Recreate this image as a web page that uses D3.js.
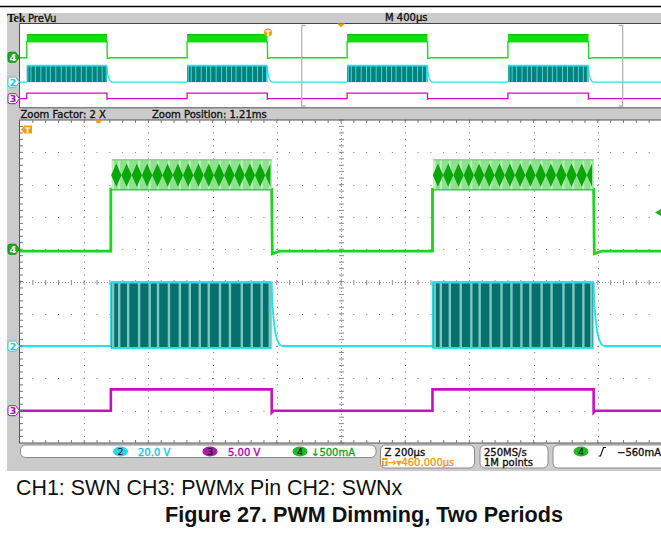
<!DOCTYPE html>
<html><head><meta charset="utf-8">
<script src="https://cdn.jsdelivr.net/npm/d3@7"></script>
<style>body{margin:0;background:#fff}svg{display:block}.st{stroke-width:0.35px}</style>
</head><body>
<svg id="c" width="661" height="540"></svg>
<script>
// ---------------- data ----------------
const previewSpanUs = [0, 4000];          // PreVu record: 10 div x 400 µs
const zoomSpanUs = [1755, 3755];          // zoomed view: 10 div x 200 µs
const expansionUs = 2000;                 // orange expansion-point marker
const triggerUs = 1545;                   // "T" trigger marker in preview
const pwmRiseUs = [42, 1041, 2038, 3040];
const pwmFallUs = [542, 1541, 2539, 3542];
const channelIds = ["4", "2", "3"];
const channelOffsetDiv = [1.0, -2.0, -4.0];
const channelPerDiv = [0.5, 20, 5];       // A/div, V/div, V/div
const channelColors = ["#1fd61f", "#22e2ec", "#c800c8"];
// CH4 inductor current (A)
const ch4LowA = -0.03;
const ch4EnvelopeA = [0.93, 1.39];
const ch4RippleMidA = 1.145;
const ch4RippleAmpA = 0.18;
const ch4RipplePeriodUs = 32;
const ch4FallUndershootA = -0.07;
// CH2 switch node (V)
const ch2HighV = 39.5;
const ch2LowV = 0;
const ch2BandBottomV = -1.2;
const ch2TailUs = [0, 2, 6, 11, 17, 24, 32];
const ch2TailV = [39.5, 26, 17, 9, 4, 1, 0];
const ch2StripeUs = [7, 26, 54, 88, 121, 147, 181, 215, 246, 277, 305, 340, 371, 408, 439, 470, 495];
// CH3 PWM pin (V)
const ch3HighV = 3.3;
const ch3LowV = 0;
const ch3UndershootV = -0.3;
// trigger level (A)
const trigLevelA = 0.57;
// status texts
const statusScale = ["20.0 V", "5.00 V", "\u2193500mA"];
const statusHoriz = ["Z 200\u00b5s", "\u2192\u25be460.000\u00b5s"];
const statusAcq = ["250MS/s", "1M points"];
const statusTrig = "\u2212560mA";
const captionText = "CH1: SWN CH3: PWMx Pin CH2: SWNx";
const titleText = "Figure 27. PWM Dimming, Two Periods";

// ---------------- layout ----------------
const svg = d3.select("#c");
const FONT = "DejaVu Sans, sans-serif";
const GRAY = "#cbcbcb";
const ORANGE = "#f59a12";

const xMain = d3.scaleLinear().domain(zoomSpanUs).range([20, 662]);
const yMain = d3.scaleLinear().domain([-5, 5]).range([443, 120]);
const xPrev = d3.scaleLinear().domain(previewSpanUs).range([20, 662]);
const yPrev = d3.scaleLinear().domain([-5, 5]).range([107, 24]);

function dv(ch, v) { return v / channelPerDiv[ch] + channelOffsetDiv[ch]; }
function stext(sel, color) { return sel.attr("fill", color).attr("stroke", color).attr("class", "st"); }

// document rule
svg.append("line").attr("x1", 0).attr("x2", 661).attr("y1", 6.5).attr("y2", 6.5)
  .attr("stroke", "#000").attr("stroke-width", 1.5);

// scope frame background
svg.append("rect").attr("x", 7).attr("y", 13).attr("width", 654).attr("height", 458).attr("fill", GRAY);
svg.append("rect").attr("x", 20).attr("y", 24).attr("width", 642).attr("height", 83.5).attr("fill", "#fff");
svg.append("rect").attr("x", 20).attr("y", 120).attr("width", 642).attr("height", 323).attr("fill", "#fff");

const defs = svg.append("defs");
defs.append("clipPath").attr("id", "clipMain").append("rect")
  .attr("x", 20).attr("y", 120).attr("width", 642).attr("height", 323);
defs.append("clipPath").attr("id", "clipPrev").append("rect")
  .attr("x", 20).attr("y", 24).attr("width", 642).attr("height", 83.5);

// ---------------- graticule ----------------
const grid = svg.append("g");
const nDivX = 10, nDivY = 10;
const tStep = (zoomSpanUs[1] - zoomSpanUs[0]) / nDivX;
for (let k = 1; k < nDivX; k++) {
  const gx = Math.round(xMain(zoomSpanUs[0] + k * tStep));
  for (let j = 0; j <= nDivY * 5; j++) {
    const gy = yMain(-5 + j * 0.2);
    if (k === 5) {
      grid.append("rect").attr("x", gx - 2).attr("y", gy - 0.5).attr("width", 5).attr("height", 1).attr("fill", "#8a8a8a");
    } else {
      grid.append("rect").attr("x", gx).attr("y", gy - 0.5).attr("width", 1).attr("height", 1).attr("fill", "#7c7c7c");
    }
  }
}
for (let d = -4; d <= 4; d++) {
  const gy = Math.round(yMain(d));
  for (let j = 0; j <= nDivX * 5; j++) {
    const gx = xMain(zoomSpanUs[0] + j * tStep / 5);
    if (d === 0) {
      grid.append("rect").attr("x", gx - 0.5).attr("y", gy - 2).attr("width", 1).attr("height", 5).attr("fill", "#8a8a8a");
    } else {
      grid.append("rect").attr("x", gx - 0.5).attr("y", gy).attr("width", 1).attr("height", 1).attr("fill", "#7c7c7c");
    }
  }
}
// center dashed lines
grid.append("line").attr("x1", Math.round(xMain(zoomSpanUs[0] + 5 * tStep)) + 0.5).attr("x2", Math.round(xMain(zoomSpanUs[0] + 5 * tStep)) + 0.5)
  .attr("y1", 120).attr("y2", 443).attr("stroke", "#a0a0a0").attr("stroke-dasharray", "1,2");
grid.append("line").attr("x1", 20).attr("x2", 662).attr("y1", Math.round(yMain(0)) + 0.5).attr("y2", Math.round(yMain(0)) + 0.5)
  .attr("stroke", "#a0a0a0").attr("stroke-dasharray", "1,2");

// ---------------- waveforms ----------------
function drawWaves(g, x, y, main) {
  const [t0, t1] = x.domain();
  const pulses = pwmRiseUs.map((r, i) => ({ r, f: pwmFallUs[i] })).filter(p => p.f > t0 && p.r < t1);
  const line = d3.line().x(d => x(d[0])).y(d => y(d[1]));

  // --- CH4 green ---
  const lowA = dv(0, ch4LowA), envLo = dv(0, ch4EnvelopeA[0]), envHi = dv(0, ch4EnvelopeA[1]);
  const gp = [[t0, lowA]];
  pulses.forEach(p => gp.push([p.r, lowA], [p.r, envLo], [p.f, envLo], [p.f + 2, dv(0, ch4FallUndershootA)], [p.f + 25, lowA]));
  gp.push([t1, lowA]);
  g.append("path").attr("d", line(gp)).attr("fill", "none")
    .attr("stroke", main ? "#1ed41e" : "#22d822").attr("stroke-width", main ? 2.8 : 1.4);
  pulses.forEach(p => {
    const bx = x(p.r) + (main ? 1 : 0), bw = x(p.f) - bx;
    g.append("rect").attr("x", bx).attr("y", y(envHi)).attr("width", bw).attr("height", y(envLo) - y(envHi))
      .attr("fill", main ? "#8fe08f" : "#12dc12");
    if (main) {
      ch2StripeUs.forEach(s => g.append("rect").attr("x", x(p.r + s) - 1).attr("y", y(envHi))
        .attr("width", 2).attr("height", y(envLo) - y(envHi)).attr("fill", "#bdf0bd"));
      g.append("line").attr("x1", bx).attr("x2", x(p.f)).attr("y1", y(envHi) + 0.5).attr("y2", y(envHi) + 0.5)
        .attr("stroke", "#6cd86c").attr("stroke-width", 1.2);
      const pts = [];
      for (let t = p.r + 1, k = 0; t <= p.f; t += ch4RipplePeriodUs / 2, k++) pts.push([t, k % 2 ? ch4RippleAmpA : 0]);
      const area = d3.area().x(d => x(d[0]))
        .y0(d => y(dv(0, ch4RippleMidA - d[1]))).y1(d => y(dv(0, ch4RippleMidA + d[1])));
      g.append("path").attr("d", area(pts)).attr("fill", "#0aa60a");
    } else {
      g.append("line").attr("x1", bx).attr("x2", x(p.f)).attr("y1", y(envHi) + 0.5).attr("y2", y(envHi) + 0.5)
        .attr("stroke", "#0bb80b").attr("stroke-width", 1);
    }
  });

  // --- CH2 cyan ---
  const c0 = dv(1, ch2LowV), cHi = dv(1, ch2HighV), cBot = dv(1, ch2BandBottomV);
  const cyan = "#22e2ec";
  let cur = t0;
  pulses.forEach(p => {
    g.append("path").attr("d", line([[cur, c0], [p.r, c0]])).attr("fill", "none")
      .attr("stroke", cyan).attr("stroke-width", main ? 2.2 : 1.4);
    cur = p.f + ch2TailUs[ch2TailUs.length - 1];
  });
  g.append("path").attr("d", line([[cur, c0], [t1, c0]])).attr("fill", "none")
    .attr("stroke", cyan).attr("stroke-width", main ? 2.2 : 1.4);
  pulses.forEach(p => {
    const bx = x(p.r), bw = x(p.f) - bx;
    const yb = main ? y(cBot) : y(c0);
    g.append("rect").attr("x", bx).attr("y", y(cHi)).attr("width", bw).attr("height", yb - y(cHi))
      .attr("fill", main ? "#06716c" : "#0a807c");
    ch2StripeUs.forEach(s => g.append("rect").attr("x", x(p.r + s) - (main ? 1.2 : 0.5)).attr("y", y(cHi))
      .attr("width", main ? 2.4 : 1).attr("height", yb - y(cHi))
      .attr("fill", main ? "#8fd6d4" : "#3fd8e0").attr("opacity", main ? 0.85 : 1));
    g.append("line").attr("x1", bx).attr("x2", x(p.f)).attr("y1", y(cHi)).attr("y2", y(cHi))
      .attr("stroke", cyan).attr("stroke-width", main ? 2.6 : 1.8);
    if (main) {
      g.append("line").attr("x1", bx).attr("x2", x(p.f)).attr("y1", yb).attr("y2", yb)
        .attr("stroke", cyan).attr("stroke-width", 2);
      g.append("line").attr("x1", bx).attr("x2", bx).attr("y1", y(c0)).attr("y2", y(cHi))
        .attr("stroke", cyan).attr("stroke-width", 1.5);
      g.append("line").attr("x1", x(p.f)).attr("x2", x(p.f)).attr("y1", yb).attr("y2", y(cHi))
        .attr("stroke", "#7fe6ec").attr("stroke-width", 1.2);
    }
    const tail = ch2TailUs.map((t, i) => [p.f + t, dv(1, ch2TailV[i])]);
    g.append("path").attr("d", line(tail)).attr("fill", "none")
      .attr("stroke", cyan).attr("stroke-width", main ? 1.8 : 1.2);
  });

  // --- CH3 magenta ---
  const m0 = dv(2, ch3LowV), m1 = dv(2, ch3HighV), mu = dv(2, ch3UndershootV);
  const mp = [[t0, m0]];
  pulses.forEach(p => mp.push([p.r, m0], [p.r, m1], [p.f, m1], [p.f, mu], [p.f + 6, m0]));
  mp.push([t1, m0]);
  g.append("path").attr("d", line(mp)).attr("fill", "none")
    .attr("stroke", "#c510c5").attr("stroke-width", main ? 2.6 : 1.3);
}

drawWaves(svg.append("g").attr("clip-path", "url(#clipPrev)"), xPrev, yPrev, false);
drawWaves(svg.append("g").attr("clip-path", "url(#clipMain)"), xMain, yMain, true);

// ---------------- borders & ticks ----------------
const bord = svg.append("g");
bord.append("rect").attr("x", 19.5).attr("y", 120).attr("width", 660).attr("height", 323)
  .attr("fill", "none").attr("stroke", "#555").attr("stroke-width", 1);
for (let j = 1; j < nDivX * 5; j++) {
  const gx = xMain(zoomSpanUs[0] + j * tStep / 5);
  bord.append("line").attr("x1", gx).attr("x2", gx).attr("y1", 120).attr("y2", 123).attr("stroke", "#777");
  bord.append("line").attr("x1", gx).attr("x2", gx).attr("y1", 440).attr("y2", 443).attr("stroke", "#777");
}
for (let j = 1; j < nDivY * 5; j++) {
  const gy = yMain(-5 + j * 0.2);
  bord.append("line").attr("x1", 20).attr("x2", 23).attr("y1", gy).attr("y2", gy).attr("stroke", "#777");
}
// preview borders
bord.append("line").attr("x1", 19.5).attr("x2", 19.5).attr("y1", 23.5).attr("y2", 108).attr("stroke", "#555");
bord.append("line").attr("x1", 19.5).attr("x2", 661).attr("y1", 23.5).attr("y2", 23.5).attr("stroke", "#444");
bord.append("line").attr("x1", 19.5).attr("x2", 661).attr("y1", 107.8).attr("y2", 107.8).attr("stroke", "#555");

// zoom bracket in preview
const bxL = xPrev(zoomSpanUs[0]), bxR = xPrev(zoomSpanUs[1]);
bord.append("path").attr("d", `M${bxL + 4},25.5 L${bxL},25.5 L${bxL},106 L${bxL + 4},106`)
  .attr("fill", "none").attr("stroke", "#b4b4b4").attr("stroke-width", 1.3);
bord.append("path").attr("d", `M${bxR - 4},25.5 L${bxR},25.5 L${bxR},106 L${bxR - 4},106`)
  .attr("fill", "none").attr("stroke", "#b4b4b4").attr("stroke-width", 1.3);

// ---------------- header texts ----------------
svg.append("text").attr("x", 7).attr("y", 21.5).attr("font-family", "Liberation Serif, serif")
  .attr("font-weight", "bold").attr("font-size", 12).attr("letter-spacing", -0.3).attr("fill", "#111").text("Tek");
stext(svg.append("text").attr("x", 28).attr("y", 21.5).attr("font-family", FONT)
  .attr("font-size", 10), "#111").text("PreVu");
stext(svg.append("text").attr("x", 385).attr("y", 21).attr("font-family", FONT)
  .attr("font-size", 10), "#111").text("M 400\u00b5s");
stext(svg.append("text").attr("x", 20.5).attr("y", 117.5).attr("font-family", FONT)
  .attr("font-size", 10), "#111").text("Zoom Factor: 2 X");
stext(svg.append("text").attr("x", 152).attr("y", 117.5).attr("font-family", FONT)
  .attr("font-size", 10), "#111").text("Zoom Position: 1.21ms");

// ---------------- channel tags ----------------
function tag(y, label, fill, stroke, textFill) {
  const x0 = 8, x1 = 19.5;
  svg.append("path")
    .attr("d", `M${x0 + 2},${y - 5} L${x1 - 4},${y - 5} L${x1},${y} L${x1 - 4},${y + 5} L${x0 + 2},${y + 5} Q${x0},${y + 5} ${x0},${y + 3} L${x0},${y - 3} Q${x0},${y - 5} ${x0 + 2},${y - 5} Z`)
    .attr("fill", fill).attr("stroke", stroke).attr("stroke-width", 1);
  svg.append("text").attr("x", x0 + 5).attr("y", y + 3.5).attr("text-anchor", "middle")
    .attr("font-family", FONT).attr("font-size", 9.5).attr("font-weight", "bold").attr("fill", textFill).text(label);
}
const tagStyles = [
  ["#1faa1f", "#158c15", "#fff"],
  ["#fff", "#22d0e0", "#22c8d8"],
  ["#fff", "#c000c0", "#b000b0"]
];
channelIds.forEach((id, i) => {
  tag(yPrev(channelOffsetDiv[i]), id, ...tagStyles[i]);
  tag(yMain(channelOffsetDiv[i]), id, ...tagStyles[i]);
});

// ---------------- orange markers ----------------
const ex = xPrev(expansionUs);
svg.append("path").attr("d", `M${ex - 4},23.5 L${ex + 4},23.5 L${ex},27.5 Z`).attr("fill", ORANGE);
const exM = xMain(expansionUs);
svg.append("path").attr("d", `M${exM - 4},119.5 L${exM + 4},119.5 L${exM},124 Z`).attr("fill", ORANGE);
const tx = xPrev(triggerUs);
svg.append("circle").attr("cx", tx).attr("cy", 32.5).attr("r", 4).attr("fill", ORANGE);
svg.append("text").attr("x", tx).attr("y", 35.5).attr("text-anchor", "middle").attr("font-family", FONT)
  .attr("font-size", 7.5).attr("font-weight", "bold").attr("fill", "#fff").text("T");
svg.append("path").attr("d", "M21,129.5 L24.5,125.5 L32,125.5 L32,133.5 L24.5,133.5 Z").attr("fill", ORANGE);
svg.append("text").attr("x", 27.5).attr("y", 132.5).attr("text-anchor", "middle").attr("font-family", FONT)
  .attr("font-size", 7.5).attr("font-weight", "bold").attr("fill", "#fff").text("T");

// trigger level marker (right edge, CH4)
const ty = yMain(dv(0, trigLevelA));
svg.append("path").attr("d", `M655,${ty} L661,${ty - 3.5} L661,${ty + 3.5} Z`).attr("fill", "#20b020");

// ---------------- status bar ----------------
const sb = svg.append("g").attr("font-family", FONT).attr("font-size", 10);
function box(x, w, h) {
  sb.append("rect").attr("x", x).attr("y", 445).attr("width", w).attr("height", h).attr("rx", 5)
    .attr("fill", "#fff").attr("stroke", "#8a8a8a").attr("stroke-width", 1);
}
box(20.5, 355.5, 12.5);
box(380.5, 94, 23);
box(480, 68, 23);
box(553, 130, 23);
function badge(cx, label, fill) {
  sb.append("ellipse").attr("cx", cx).attr("cy", 451.5).attr("rx", 7.5).attr("ry", 5).attr("fill", fill);
  sb.append("text").attr("x", cx).attr("y", 455).attr("text-anchor", "middle").attr("font-size", 9.5)
    .attr("fill", "#111").text(label);
}
badge(120.5, "2", "#28d8e6");
stext(sb.append("text").attr("x", 138).attr("y", 455.5), "#18c4d4").text(statusScale[0]);
badge(210, "3", "#a81aa8");
stext(sb.append("text").attr("x", 228).attr("y", 455.5), "#b000b0").text(statusScale[1]);
badge(300, "4", "#22b822");
stext(sb.append("text").attr("x", 311).attr("y", 455.5), "#16a016").text(statusScale[2]);

stext(sb.append("text").attr("x", 384.5).attr("y", 455.5), "#111").text(statusHoriz[0]);
sb.append("rect").attr("x", 382).attr("y", 458).attr("width", 5.5).attr("height", 8).attr("fill", ORANGE);
sb.append("text").attr("x", 384.7).attr("y", 465).attr("text-anchor", "middle").attr("font-size", 7)
  .attr("font-weight", "bold").attr("fill", "#fff").text("T");
stext(sb.append("text").attr("x", 388).attr("y", 466), ORANGE).text(statusHoriz[1]);

stext(sb.append("text").attr("x", 484).attr("y", 455.5), "#111").text(statusAcq[0]);
stext(sb.append("text").attr("x", 484).attr("y", 466), "#111").text(statusAcq[1]);

badge(581, "4", "#22b822");
sb.append("path").attr("d", "M598.5,456 L600.5,456 L603.5,447.5 L606,447.5").attr("fill", "none")
  .attr("stroke", "#111").attr("stroke-width", 1.2);
stext(sb.append("text").attr("x", 617).attr("y", 455.5), "#111").text(statusTrig);

// ---------------- caption ----------------
svg.append("text").attr("x", 16).attr("y", 495).attr("font-family", "Liberation Sans, Arial, sans-serif")
  .attr("font-size", 21.4).attr("fill", "#111").text(captionText);
svg.append("text").attr("x", 165).attr("y", 522).attr("font-family", "Liberation Sans, Arial, sans-serif")
  .attr("font-size", 21.6).attr("font-weight", "bold").attr("fill", "#111").text(titleText);
</script>
</body></html>
